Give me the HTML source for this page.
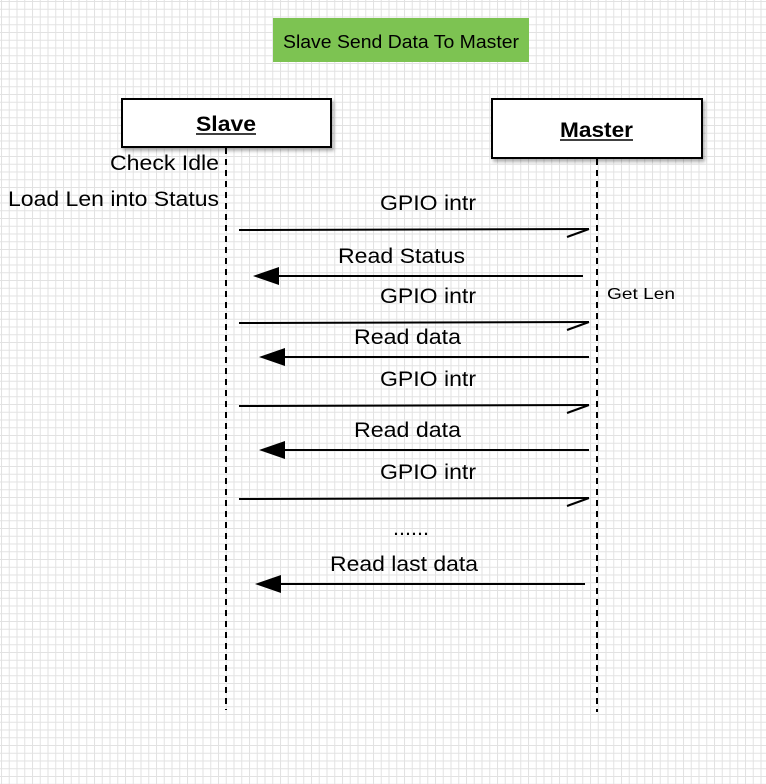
<!DOCTYPE html>
<html><head><meta charset="utf-8"><style>
html,body{margin:0;padding:0;width:766px;height:784px;overflow:hidden;background:#fff}
svg{display:block}
text{font-family:"Liberation Sans",sans-serif;fill:#000}
</style></head><body>
<svg width="766" height="784" viewBox="0 0 766 784" xmlns="http://www.w3.org/2000/svg">
<defs>
<pattern id="g" x="1" y="1" width="7.75" height="7.75" patternUnits="userSpaceOnUse">
<path d="M0.5 0V7.75M0 0.5H7.75" stroke="#e2e2e2" stroke-width="1" fill="none"/>
</pattern>
<filter id="sh" x="-10%" y="-20%" width="130%" height="160%"><feDropShadow dx="2" dy="3" stdDeviation="1.5" flood-color="#000" flood-opacity="0.3"/></filter>
</defs>
<rect width="766" height="784" fill="#fff"/>
<rect width="766" height="784" fill="url(#g)"/>

<rect x="273" y="18" width="256" height="44" fill="#7dc352"/>
<text x="283" y="48" font-size="18" textLength="236" lengthAdjust="spacingAndGlyphs">Slave Send Data To Master</text>

<rect x="122" y="99" width="209" height="48" fill="#fff" stroke="#000" stroke-width="2" filter="url(#sh)"/>
<text x="196" y="131" font-size="21" font-weight="bold" textLength="60" lengthAdjust="spacingAndGlyphs">Slave</text>
<line x1="196" y1="134" x2="256" y2="134" stroke="#000" stroke-width="1.5"/>

<rect x="492" y="99" width="210" height="59" fill="#fff" stroke="#000" stroke-width="2" filter="url(#sh)"/>
<text x="560" y="137" font-size="21" font-weight="bold" textLength="73" lengthAdjust="spacingAndGlyphs">Master</text>
<line x1="560" y1="140" x2="633" y2="140" stroke="#000" stroke-width="1.5"/>

<line x1="226" y1="148" x2="226" y2="710" stroke="#000" stroke-width="2" stroke-dasharray="6,5"/>
<line x1="597" y1="159" x2="597" y2="712" stroke="#000" stroke-width="2" stroke-dasharray="6,5"/>

<g font-size="21">
<text x="110" y="170" textLength="109" lengthAdjust="spacingAndGlyphs">Check Idle</text>
<text x="8" y="206" textLength="211" lengthAdjust="spacingAndGlyphs">Load Len into Status</text>
</g>
<text x="607" y="299" font-size="16" textLength="68" lengthAdjust="spacingAndGlyphs">Get Len</text>

<g stroke="#000" stroke-width="2" fill="none">
<line x1="239" y1="230" x2="589" y2="229"/><line x1="589" y1="229" x2="567" y2="237"/>
<line x1="239" y1="323" x2="589" y2="322"/><line x1="589" y1="322" x2="567" y2="330"/>
<line x1="239" y1="406" x2="589" y2="405"/><line x1="589" y1="405" x2="567" y2="413"/>
<line x1="239" y1="499" x2="589" y2="498"/><line x1="589" y1="498" x2="567" y2="506"/>
<line x1="270" y1="276" x2="583" y2="276"/>
<line x1="275" y1="357" x2="589" y2="357"/>
<line x1="275" y1="450" x2="589" y2="450"/>
<line x1="270" y1="584" x2="585" y2="584"/>
</g>
<g fill="#000">
<path d="M253 276 L279 267 L279 285 Z"/>
<path d="M259 357 L285 348 L285 366 Z"/>
<path d="M259 450 L285 441 L285 459 Z"/>
<path d="M255 584 L281 575 L281 593 Z"/>
</g>

<g font-size="21">
<text x="380" y="210" textLength="96" lengthAdjust="spacingAndGlyphs">GPIO intr</text>
<text x="338" y="263" textLength="127" lengthAdjust="spacingAndGlyphs">Read Status</text>
<text x="380" y="303" textLength="96" lengthAdjust="spacingAndGlyphs">GPIO intr</text>
<text x="354" y="344" textLength="107" lengthAdjust="spacingAndGlyphs">Read data</text>
<text x="380" y="386" textLength="96" lengthAdjust="spacingAndGlyphs">GPIO intr</text>
<text x="354" y="437" textLength="107" lengthAdjust="spacingAndGlyphs">Read data</text>
<text x="380" y="479" textLength="96" lengthAdjust="spacingAndGlyphs">GPIO intr</text>
<text x="393" y="535" textLength="36" lengthAdjust="spacingAndGlyphs">......</text>
<text x="330" y="571" textLength="148" lengthAdjust="spacingAndGlyphs">Read last data</text>
</g>
</svg>
</body></html>
